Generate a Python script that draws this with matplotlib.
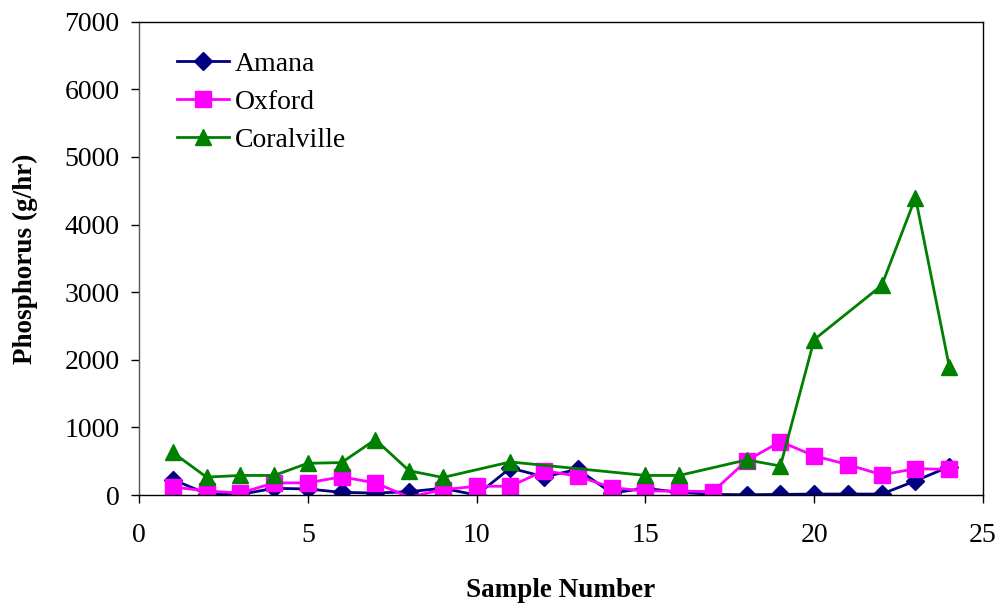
import matplotlib.pyplot as plt

plt.rcParams['font.family'] = ['Liberation Serif', 'DejaVu Serif']

# Data
samples = list(range(1, 25))
amana = [230, 20, 10, 100, 90, 40, 30, 50, 100, 0, 400, 270,
         380, 30, 100, 40, 10, 5, 10, 15, 15, 15, 210, 420]
oxford = [120, 60, 30, 180, 180, 270, 180, -30, 80, 130, 130, 360,
          280, 110, 60, 60, 50, 510, 790, 580, 450, 300, 390, 380]
coral_x = [1, 2, 3, 4, 5, 6, 7, 8, 9, 11, 15, 16, 18, 19, 20, 22, 23, 24]
coralville = [630, 265, 290, 290, 470, 480, 820, 360, 260, 490, 290, 290,
              520, 430, 2300, 3100, 4400, 1900]

fig = plt.figure(figsize=(10, 6.03), dpi=100)
ax = fig.add_axes([0.139, 0.179, 0.844, 0.785])

ax.plot(samples, amana, color='#000080', marker='D', markersize=9,
        linewidth=2, label='Amana')
# no marker is drawn for sample 8 (below zero)
ox_marks = [i for i in range(len(samples)) if samples[i] != 8]
ax.plot(samples, oxford, color='#FF00FF', marker='s', markersize=11,
        markevery=ox_marks, linewidth=2, label='Oxford')
ax.plot(coral_x, coralville, color='#008000', marker='^', markersize=12,
        linewidth=2, label='Coralville')

ax.set_xlim(0, 25)
ax.set_ylim(0, 7000)
ax.set_xticks([0, 5, 10, 15, 20, 25])
ax.set_yticks(range(0, 7001, 1000))
ax.tick_params(labelsize=20, direction='out', length=6, width=1)
ax.tick_params(axis='x', pad=14)
ax.tick_params(axis='y', pad=8)
for s in ax.spines.values():
    s.set_linewidth(1)
ax.spines['left'].set_color('#555555')

ax.set_xlabel('Sample Number', fontsize=19.5, fontweight='bold', labelpad=22)
ax.set_ylabel('Phosphorus (g/hr)', fontsize=19.5, fontweight='bold')
ax.yaxis.set_label_coords(-0.12, 0.5)

ax.legend(loc='upper left', bbox_to_anchor=(0.015, 0.99), frameon=False,
          fontsize=20, handlelength=1.9, labelspacing=0.45, handletextpad=0.2)

fig.savefig('out.png', dpi=100)
